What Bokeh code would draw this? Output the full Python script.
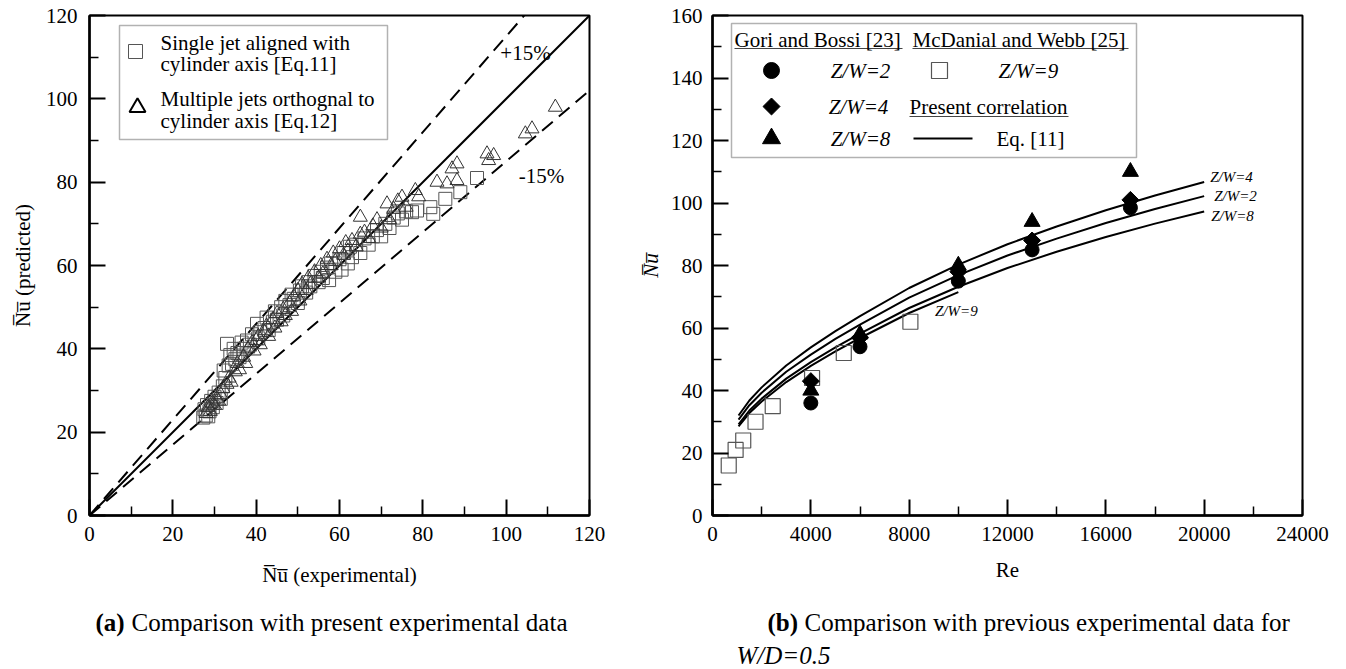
import math
from bokeh.plotting import figure
from bokeh.layouts import row, column
from bokeh.models import Label, BoxAnnotation, Range1d, FixedTicker
from bokeh.embed import file_html
from bokeh.resources import INLINE

FONT = "Liberation Serif"
OL = "\u0305"  # combining overline

# ---------------- Panel (a) data ----------------
ticks_a = [0, 20, 40, 60, 80, 100, 120]
minor_a = [10, 30, 50, 70, 90, 110]
ref_x = [0, 120]
band_factors = [1.0, 1.15, 0.85]

sq_x = [27.3, 27.6, 27.9, 28.2, 28.5, 28.8, 29.2, 29.6, 30.0, 30.5, 31.0, 31.5, 32.0, 32.2, 32.6,
        33.0, 33.4, 33.8, 34.2, 34.6, 35.0, 35.5, 36.0, 36.5, 37.0, 37.8, 38.5, 39.0, 40.2, 40.5,
        41.0, 42.0, 42.5, 43.0, 44.0, 44.5, 45.0, 46.0, 46.5, 47.0, 48.0, 48.5, 49.0, 50.0, 50.5,
        51.0, 52.0, 52.5, 53.0, 54.0, 55.0, 55.5, 56.0, 57.0, 57.5, 58.0, 59.0, 60.0, 60.5, 61.0,
        62.0, 62.5, 63.0, 64.0, 65.0, 66.0, 67.0, 68.0, 69.0, 70.0, 71.0, 72.0, 73.0, 74.0, 75.0,
        76.0, 77.4, 78.6, 81.8, 82.5, 85.4, 89.0, 93.0]
sq_y = [23.5, 25.5, 24.0, 26.5, 23.8, 25.0, 27.5, 26.0, 28.5, 27.0, 29.5, 28.0, 31.0, 34.8, 33.0,
        41.2, 36.0, 38.5, 36.4, 40.0, 37.5, 39.0, 38.0, 41.5, 40.0, 42.0, 41.0, 43.5, 46.0, 42.5,
        44.0, 45.0, 47.5, 44.5, 46.5, 49.0, 47.0, 50.0, 48.0, 51.5, 50.5, 53.0, 52.0, 51.0, 54.0,
        55.0, 53.5, 56.0, 55.0, 57.5, 56.0, 58.5, 57.0, 59.5, 56.5, 60.5, 58.5, 61.5, 59.0, 63.0,
        60.5, 64.5, 62.0, 65.0, 63.0, 66.5, 65.0, 67.0, 68.5, 67.0, 70.0, 69.0, 71.5, 72.5, 71.0,
        73.0, 72.8, 73.2, 74.0, 72.4, 76.0, 77.6, 81.0]

tri_x = [28.0, 28.5, 29.0, 29.5, 30.0, 30.5, 31.0, 31.5, 32.0, 33.0, 33.5, 34.0, 35.0, 35.5, 36.0,
         37.0, 37.5, 38.0, 39.0, 39.5, 40.0, 40.5, 41.0, 42.0, 42.5, 43.0, 44.0, 44.5, 45.0, 46.0,
         46.5, 47.0, 48.0, 48.5, 49.0, 50.0, 50.5, 51.0, 52.0, 52.5, 53.0, 54.0, 55.0, 55.5, 56.0,
         57.0, 58.0, 58.5, 59.0, 60.0, 61.0, 61.5, 62.0, 63.0, 64.0, 65.0, 65.0, 66.0, 67.0, 68.0,
         69.0, 70.0, 71.4, 72.0, 73.0, 74.0, 75.0, 76.0, 78.2, 79.0, 83.4, 85.8, 87.0, 88.2, 88.2,
         95.4, 95.8, 97.0, 104.6, 106.2, 111.8]
tri_y = [24.5, 26.0, 25.0, 27.0, 26.5, 28.0, 27.5, 29.0, 30.5, 31.5, 33.0, 32.0, 34.5, 36.5, 35.0,
         38.0, 36.5, 40.0, 41.5, 39.5, 42.0, 43.0, 41.0, 44.0, 45.5, 43.0, 47.0, 45.0, 48.5, 46.5,
         49.5, 48.0, 51.0, 49.0, 52.5, 54.0, 51.5, 55.5, 54.0, 57.0, 55.5, 58.5, 57.0, 60.0, 58.0,
         61.5, 60.0, 63.0, 61.0, 64.0, 62.5, 65.5, 63.5, 66.0, 64.5, 67.5, 71.6, 68.0, 66.5, 69.5,
         71.0, 69.0, 74.8, 71.0, 73.5, 75.5, 76.4, 74.0, 78.0, 76.5, 80.0, 79.6, 83.2, 84.4, 80.4,
         86.8, 85.2, 86.4, 91.6, 92.8, 98.0]

# ---------------- Panel (b) data ----------------
ticks_bx = [0, 4000, 8000, 12000, 16000, 20000, 24000]
minor_bx = [2000, 6000, 10000, 14000, 18000, 22000]
ticks_by = [0, 20, 40, 60, 80, 100, 120, 140, 160]
minor_by = [10, 30, 50, 70, 90, 110, 130, 150]

re_mcd = [660, 940, 1250, 1750, 2450, 4050, 5340, 8050]
nu_mcd = [16, 21, 24, 30, 35, 44, 52, 62]

re_gb = [4000, 6000, 10000, 13000, 17000]
nu_zw2 = [36, 54, 75, 85, 98.5]
nu_zw4 = [43, 57, 78, 88, 101]
nu_zw8 = [40, 58, 80, 94, 110]

re_curve = [1060, 1500, 2000, 3000, 4000, 5000, 6000, 8000, 10000, 12000, 14000, 16000, 18000, 20000]
corr_zw4 = [32.0, 36.8, 41.0, 48.0, 53.8, 59.0, 63.8, 72.8, 80.3, 86.8, 92.5, 97.7, 102.4, 106.7]
corr_zw2 = [30.7, 35.3, 39.3, 46.0, 51.5, 56.5, 61.1, 69.7, 76.9, 83.2, 88.6, 93.6, 98.1, 102.2]
corr_zw8 = [29.2, 33.6, 37.4, 43.8, 49.1, 53.8, 58.2, 66.4, 73.2, 79.2, 84.4, 89.1, 93.4, 97.3]
re_curve9 = [1060, 1500, 2000, 3000, 4000, 5000, 6000, 8000, 10000]
corr_zw9 = [28.5, 32.8, 36.5, 42.7, 47.9, 52.5, 56.8, 64.8, 71.5]

TOP_H = 600   # height of the two plot panels
CAP_H = 669 - TOP_H
DIAMOND_ANGLE = math.pi / 4


def style(p, xt, xm, yt, ym):
    p.outline_line_color = "black"
    p.outline_line_width = 2
    p.grid.visible = False
    p.xaxis[0].ticker = FixedTicker(ticks=xt, minor_ticks=xm)
    p.yaxis[0].ticker = FixedTicker(ticks=yt, minor_ticks=ym)
    for ax in (p.xaxis[0], p.yaxis[0]):
        ax.axis_line_width = 2.5
        ax.axis_line_color = "black"
        ax.major_tick_in = 16
        ax.major_tick_out = 0
        ax.minor_tick_in = 9
        ax.minor_tick_out = 0
        ax.major_tick_line_width = 2
        ax.minor_tick_line_width = 1.5
        ax.major_tick_line_color = "black"
        ax.minor_tick_line_color = "black"
        ax.major_label_text_font = FONT
        ax.major_label_text_font_size = "21px"
        ax.major_label_text_color = "black"
        ax.axis_label_text_font = FONT
        ax.axis_label_text_font_size = "21px"
        ax.axis_label_text_color = "black"
    p.xaxis[0].major_label_standoff = 11
    p.yaxis[0].major_label_standoff = 12


def lab(p, x, y, text, size="21px", style_="normal", align="left", units="screen"):
    p.add_layout(Label(x=x, y=y, x_units=units, y_units=units, text=text,
                       text_font=FONT, text_font_size=size, text_font_style=style_,
                       text_align=align, text_baseline="middle", text_color="black"))


# ================= Panel (a) =================
FA_L, FA_T, FA_W, FA_H = 89, 15, 500, 500
WA = 630
pa = figure(width=WA, height=TOP_H, x_range=Range1d(0, 120), y_range=Range1d(0, 120),
            output_backend="svg", toolbar_location=None,
            min_border_left=FA_L, min_border_right=WA - FA_L - FA_W,
            min_border_top=FA_T, min_border_bottom=TOP_H - FA_T - FA_H)
style(pa, ticks_a, minor_a, ticks_a, minor_a)
pa.xaxis[0].axis_label = "N" + OL + "u" + OL + " (experimental)"
pa.xaxis[0].axis_label_standoff = 19
pa.xaxis[0].axis_label_text_font_style = "normal"
pa.yaxis[0].axis_label = "N" + OL + "u" + OL + " (predicted)"
pa.yaxis[0].axis_label_standoff = 8
pa.yaxis[0].axis_label_text_font_style = "normal"


def ax_(px):
    return (px - FA_L) / FA_W * 120


def ay_(py):
    return (FA_T + FA_H - py) / FA_H * 120


for f, dash in zip(band_factors, ["solid", "14 8", "14 8"]):
    pa.line(ref_x, [v * f for v in ref_x], line_color="black", line_width=2, line_dash=dash)

pa.scatter(sq_x, sq_y, marker="square", size=13, fill_color=None, line_color="#555555", line_width=1)
pa.scatter(tri_x, tri_y, marker="triangle", size=14, fill_color=None, line_color="#333333", line_width=1)

# legend (a)
pa.add_layout(BoxAnnotation(left=ax_(119), right=ax_(387), top=ay_(25), bottom=ay_(139),
                            fill_color=None, line_color="black", line_width=1.5))
pa.scatter([ax_(135)], [ay_(51)], marker="square", size=14, fill_color=None, line_color="#555555", line_width=1)
pa.scatter([ax_(137)], [ay_(107)], marker="triangle", size=16, fill_color=None, line_color="black", line_width=2)
for py, t in [(42, "Single jet aligned with"), (63, "cylinder axis [Eq.11]"),
              (98, "Multiple jets orthognal to"), (120, "cylinder axis [Eq.12]")]:
    lab(pa, 160 - FA_L, FA_T + FA_H - py, t)

lab(pa, 525 - FA_L, FA_T + FA_H - 52, "+15%", align="center")
lab(pa, 541 - FA_L, FA_T + FA_H - 175, "-15%", align="center")

# ================= Panel (b) =================
OFF = WA
WB = 1346 - WA
FB_L, FB_T, FB_W, FB_H = 712 - OFF, 15, 590, 500
pb = figure(width=WB, height=TOP_H, x_range=Range1d(0, 24000), y_range=Range1d(0, 160),
            output_backend="svg", toolbar_location=None,
            min_border_left=FB_L, min_border_right=WB - FB_L - FB_W,
            min_border_top=FB_T, min_border_bottom=TOP_H - FB_T - FB_H)
style(pb, ticks_bx, minor_bx, ticks_by, minor_by)
pb.xaxis[0].major_label_standoff = 11
pb.yaxis[0].major_label_standoff = 10
pb.xaxis[0].axis_label = "Re"
pb.xaxis[0].axis_label_standoff = 14
pb.xaxis[0].axis_label_text_font_style = "normal"
pb.yaxis[0].axis_label = "N" + OL + "u" + OL
pb.yaxis[0].axis_label_standoff = 5
pb.yaxis[0].axis_label_text_font_style = "italic"


def bx_(px):
    return (px - OFF - FB_L) / FB_W * 24000


def by_(py):
    return (FB_T + FB_H - py) / FB_H * 160


def sx_b(px):
    return px - OFF - FB_L


def sy_b(py):
    return FB_T + FB_H - py


for ys in (corr_zw4, corr_zw2, corr_zw8):
    pb.line(re_curve, ys, line_color="black", line_width=2)
pb.line(re_curve9, corr_zw9, line_color="black", line_width=2)

pb.scatter(re_mcd, nu_mcd, marker="square", size=15, fill_color=None, line_color="#555555", line_width=1.2)
pb.scatter(re_gb, nu_zw2, marker="circle", size=14, fill_color="black", line_color="black")
pb.scatter(re_gb, nu_zw4, marker="square", angle=DIAMOND_ANGLE, size=12, fill_color="black", line_color="black")
pb.scatter(re_gb, nu_zw8, marker="triangle", size=16, fill_color="black", line_color="black")

# curve labels
for ys, t, dx, dy in [(corr_zw4, "Z/W=4", 6, 5), (corr_zw2, "Z/W=2", 10, 0), (corr_zw8, "Z/W=8", 7, -5)]:
    pb.add_layout(Label(x=re_curve[-1], y=ys[-1], x_offset=dx, y_offset=dy, text=t,
                        text_font=FONT, text_font_size="15px", text_font_style="italic",
                        text_baseline="middle", text_color="black"))
pb.add_layout(Label(x=re_curve9[-1], y=corr_zw9[-1], x_offset=-2, y_offset=-19, text="Z/W=9",
                    text_font=FONT, text_font_size="15px", text_font_style="italic",
                    text_align="center", text_baseline="middle", text_color="black"))

# legend (b)
pb.add_layout(BoxAnnotation(left=bx_(731), right=bx_(1136), top=by_(23), bottom=by_(157),
                            fill_color=None, line_color="black", line_width=1.5))
lab(pb, sx_b(734), sy_b(39), "Gori and Bossi [23]")
lab(pb, sx_b(912), sy_b(39), "McDanial and Webb [25]")
pb.segment(x0=[bx_(734), bx_(912), bx_(909)], y0=[by_(48), by_(48), by_(116)],
           x1=[bx_(902), bx_(1128), bx_(1068)], y1=[by_(48), by_(48), by_(116)],
           line_color="#444444", line_width=1.2)
pb.scatter([bx_(771)], [by_(70)], marker="circle", size=16, fill_color="black", line_color="black")
pb.scatter([bx_(771)], [by_(106)], marker="square", angle=DIAMOND_ANGLE, size=12,
           fill_color="black", line_color="black")
pb.scatter([bx_(771)], [by_(138)], marker="triangle", size=18, fill_color="black", line_color="black")
pb.scatter([bx_(939)], [by_(70)], marker="square", size=16, fill_color=None, line_color="#555555", line_width=1.2)
pb.segment(x0=[bx_(913)], y0=[by_(138)], x1=[bx_(972)], y1=[by_(138)], line_color="black", line_width=2)
lab(pb, sx_b(860), sy_b(70), "Z/W=2", style_="italic", align="center")
lab(pb, sx_b(858), sy_b(106), "Z/W=4", style_="italic", align="center")
lab(pb, sx_b(860), sy_b(138), "Z/W=8", style_="italic", align="center")
lab(pb, sx_b(998), sy_b(70), "Z/W=9", style_="italic")
lab(pb, sx_b(909), sy_b(106), "Present correlation")
lab(pb, sx_b(996), sy_b(138), "Eq. [11]")

# ================= Captions strip =================
pc = figure(width=1346, height=CAP_H, x_range=Range1d(0, 1346), y_range=Range1d(0, CAP_H),
            output_backend="svg", toolbar_location=None, x_axis_type=None, y_axis_type=None,
            min_border=0, min_border_left=0, min_border_right=0, min_border_top=0, min_border_bottom=0)
pc.outline_line_color = None
pc.grid.visible = False


def cap(x, py, text, style_="normal"):
    pc.add_layout(Label(x=x, y=669 - py, x_units="data", y_units="data", text=text,
                        text_font=FONT, text_font_size="25px", text_font_style=style_,
                        text_align="left", text_baseline="middle", text_color="black"))


cap(95, 622, "(a)", "bold")
cap(131, 622, "Comparison with present experimental data")
cap(767, 622, "(b)", "bold")
cap(804, 622, "Comparison with previous experimental data for")
cap(736, 655, "W/D=0.5", "italic")

layout = column(row(pa, pb), pc)
open("out.html", "w").write(file_html(layout, INLINE))
